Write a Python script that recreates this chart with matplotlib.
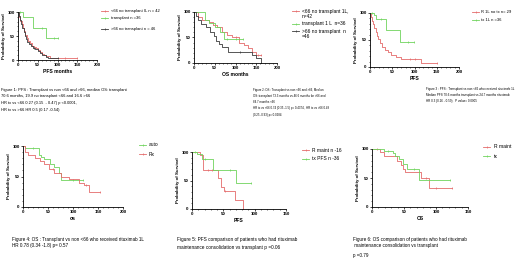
import numpy as np
import matplotlib
matplotlib.use("Agg")
import matplotlib.pyplot as plt
from matplotlib.ticker import MultipleLocator

plt.rcParams['font.family'] = ['Liberation Sans', 'DejaVu Sans']

RED = '#e46a6a'
GREEN = '#6fd35c'
BLACK = '#3a3a3a'

# ---------------- data (time in months, survival in %) ----------------
# Panel 1: PFS
p1_lt66_t = [0, 3, 6, 9, 12, 15, 18, 22, 26, 30, 35, 40, 45, 50, 55, 60, 66, 72, 80, 150]
p1_lt66_s = [100, 90, 82, 74, 67, 60, 52, 45, 40, 35, 30, 27, 24, 21, 17, 13, 10, 8, 5, 5]
p1_tx_t = [0, 12, 38, 72, 100]
p1_tx_s = [100, 90, 67, 46, 46]
p1_gt66_t = [0, 2, 5, 8, 11, 14, 17, 20, 24, 28, 33, 38, 44, 50, 56, 62, 70, 76, 100]
p1_gt66_s = [100, 92, 83, 75, 66, 58, 50, 44, 38, 33, 29, 26, 22, 18, 14, 10, 7, 5, 5]
p1_lt66_c = [120, 150]
p1_tx_c = [5, 60, 90, 100]
p1_gt66_c = [40, 100]

# Panel 2: OS
p2_lt66_t = [0, 10, 20, 35, 45, 55, 68, 80, 92, 108, 120, 130, 140, 150, 162]
p2_lt66_s = [100, 90, 85, 80, 75, 70, 60, 55, 50, 40, 35, 30, 22, 15, 15]
p2_tx_t = [0, 27, 35, 50, 62, 72, 118]
p2_tx_s = [100, 85, 78, 70, 60, 48, 48]
p2_gt66_t = [0, 5, 10, 18, 28, 38, 47, 52, 60, 68, 82, 133, 140, 150, 160, 161]
p2_gt66_s = [100, 93, 85, 77, 70, 60, 52, 44, 38, 32, 21, 21, 16, 10, 10, 0]
p2_lt66_c = [100, 155, 162]
p2_tx_c = [80, 100, 118]
p2_gt66_c = [110]

# Panel 3: PFS, rituximab 1L vs transplant
p3_r_t = [0, 2, 4, 7, 10, 13, 16, 19, 23, 28, 33, 40, 48, 58, 70, 115, 150]
p3_r_s = [100, 93, 86, 79, 72, 65, 58, 51, 44, 37, 31, 27, 22, 19, 15, 8, 8]
p3_tx_t = [0, 8, 14, 37, 67, 99]
p3_tx_s = [100, 96, 88, 68, 47, 47]
p3_r_c = [90, 100, 150]
p3_tx_c = [5, 25, 85, 99]

# Panel 4: OS auto vs Rx
p4_auto_t = [0, 3, 31, 36, 41, 54, 61, 72, 75, 119]
p4_auto_s = [100, 97, 85, 82, 78, 70, 65, 55, 44, 44]
p4_rx_t = [0, 3, 10, 24, 34, 41, 51, 61, 75, 92, 111, 122, 132, 153]
p4_rx_s = [100, 90, 85, 80, 75, 70, 62, 55, 50, 46, 40, 36, 25, 25]
p4_auto_c = [20, 100, 119]
p4_rx_c = [60, 125, 153]

# Panel 5: PFS R maintenance vs transplant
p5_rm_t = [0, 12, 18, 40, 42, 47, 51, 68, 81, 82]
p5_rm_s = [100, 95, 69, 69, 55, 38, 31, 15, 15, 0]
p5_tx_t = [0, 8, 16, 33, 70, 94]
p5_tx_s = [100, 97, 88, 68, 46, 46]
p5_rm_c = [25, 32, 52]
p5_tx_c = [5, 20, 60, 94]

# Panel 6: OS R maintenance vs transplant
p6_rm_t = [0, 12, 18, 39, 45, 48, 51, 77, 89, 125]
p6_rm_s = [100, 95, 88, 80, 72, 66, 60, 50, 33, 33]
p6_tx_t = [0, 18, 33, 36, 42, 48, 55, 74, 122]
p6_tx_s = [100, 97, 93, 88, 82, 75, 66, 46, 46]
p6_rm_c = [8, 85, 100, 125]
p6_tx_c = [25, 65, 122]

W, H = 520, 259
fig = plt.figure(figsize=(W / 100, H / 100), dpi=100)


def px_axes(x0, x1, ytop, ybot):
    return fig.add_axes([x0 / W, 1 - ybot / H, (x1 - x0) / W, (ybot - ytop) / H])


def km(ax, t, s, cens, color):
    t = np.asarray(t, float)
    s = np.asarray(s, float)
    ax.step(t, s, where='post', color=color, lw=0.6, clip_on=False)
    if cens:
        c = np.asarray(cens, float)
        idx = np.searchsorted(t, c, side='right') - 1
        ax.plot(c, s[idx], ls='none', marker='|', ms=1.8, mew=0.5, color=color, clip_on=False)


def style(ax, xmax, xlabel, xmajor):
    ax.set_xlim(0, xmax)
    ax.set_ylim(0, 100)
    for sp in ['top', 'right']:
        ax.spines[sp].set_visible(False)
    for sp in ['left', 'bottom']:
        ax.spines[sp].set_linewidth(0.6)
    ax.xaxis.set_major_locator(MultipleLocator(xmajor))
    ax.xaxis.set_minor_locator(MultipleLocator(xmajor / 5))
    ax.yaxis.set_major_locator(MultipleLocator(50))
    ax.yaxis.set_minor_locator(MultipleLocator(10))
    ax.tick_params(which='major', length=1.6, width=0.5, labelsize=3.2, pad=0.8)
    ax.tick_params(which='minor', length=0.9, width=0.4)
    for lab in ax.get_xticklabels() + ax.get_yticklabels():
        lab.set_fontweight('bold')
    ax.set_xlabel(xlabel, fontsize=3.6, fontweight='bold', labelpad=1.5)
    ax.set_ylabel('Probability of Survival', fontsize=3.2, fontweight='bold', labelpad=1.2)


def legend(x_line, x_text, rows, size=3.0):
    for y, color, label in rows:
        if color is not None:
            fig.add_artist(plt.Line2D([x_line / W, (x_line + 7) / W], [1 - y / H, 1 - y / H],
                                      color=color, lw=0.6))
            fig.add_artist(plt.Line2D([(x_line + 3.5) / W], [1 - y / H], marker='|', ms=1.8,
                                      mew=0.5, color=color))
        fig.text(x_text / W, 1 - y / H, label, fontsize=size, va='center', ha='left')


def caption(x, ys, lines, size):
    for y, line in zip(ys, lines):
        fig.text(x / W, 1 - y / H, line, fontsize=size, va='center', ha='left')


# Panel 1
ax1 = px_axes(18, 97, 12, 60)
km(ax1, p1_lt66_t, p1_lt66_s, p1_lt66_c, RED)
km(ax1, p1_tx_t, p1_tx_s, p1_tx_c, GREEN)
km(ax1, p1_gt66_t, p1_gt66_s, p1_gt66_c, BLACK)
style(ax1, 200, 'PFS months', 50)
legend(101, 111, [(11, RED, '<66 no transplant IL n = 42'),
                  (18, GREEN, 'transplant n =36'),
                  (29, BLACK, '>66 no transplant n = 46')], 3.0)
caption(1, [90, 96.5, 103, 110],
        ['Figure 1: PFS : Transplant vs non <66 and >66, median OS: transplant',
         '70.6 months, 19.9 no transplant <66 and 16.6 >66',
         'HR tx vs <66 0.27 (0.15  - 0.47) p <0.0001,',
         'HR tx vs >66 HR 0.5 (0.17 -0.54)'], 2.9)

# Panel 2
ax2 = px_axes(194, 277, 12, 63)
km(ax2, p2_lt66_t, p2_lt66_s, p2_lt66_c, RED)
km(ax2, p2_tx_t, p2_tx_s, p2_tx_c, GREEN)
km(ax2, p2_gt66_t, p2_gt66_s, p2_gt66_c, BLACK)
style(ax2, 200, 'OS months', 50)
legend(292, 302, [(11, RED, '<66 no transplant 1L,'),
                  (17, None, 'n=42'),
                  (24, GREEN, 'transplant 1 L  n=36'),
                  (31, BLACK, '>66 no transplant  n'),
                  (37, None, '=46')], 3.5)
caption(253, [90, 96, 102, 108, 115],
        ['Figure 2: OS : Transplant vs non <66 and >66, Median',
         'OS: transplant 73.3 months vs 46.6 months for >66 and',
         '84.7 months <66',
         'HR tx vs <66 0.74 (0.35 -1.5) p= 0.4374 , HR tx vs >66 0.48',
         '(0.25 -0.93) p= 0.0284'], 2.1)

# Panel 3
ax3 = px_axes(370, 459, 13, 67)
km(ax3, p3_r_t, p3_r_s, p3_r_c, RED)
km(ax3, p3_tx_t, p3_tx_s, p3_tx_c, GREEN)
style(ax3, 200, 'PFS', 50)
legend(472, 481, [(12, RED, 'R 1L no tx n= 29'),
                  (20, GREEN, 'tx 1L n =36')], 3.0)
caption(426, [89, 95, 101],
        ['Figure 3 : PFS : Transplant vs non <66 who received rituximab 1L',
         'Median PFS 70.6 months transplant vs 24.7 months rituximab',
         'HR 0.3 (0.16 - 0.59),  P value= 0.0005'], 2.2)

# Panel 4
ax4 = px_axes(23, 123, 146, 207)
km(ax4, p4_auto_t, p4_auto_s, p4_auto_c, GREEN)
km(ax4, p4_rx_t, p4_rx_s, p4_rx_c, RED)
style(ax4, 200, 'os', 50)
legend(139, 149, [(145, GREEN, 'auto'),
                  (154, RED, 'Rx')], 3.5)
caption(12, [239, 246],
        ['Figure 4: OS : Transplant vs non <66 who received rituximab 1L',
         'HR 0.78 (0.34 -1.8) p= 0.57'], 3.3)

# Panel 5
ax5 = px_axes(192, 286, 152, 209)
km(ax5, p5_rm_t, p5_rm_s, p5_rm_c, RED)
km(ax5, p5_tx_t, p5_tx_s, p5_tx_c, GREEN)
style(ax5, 150, 'PFS', 50)
legend(302, 312, [(150, RED, 'R maint n -16'),
                  (159, GREEN, 'tx PFS n -36')], 3.5)
caption(177, [239, 247],
        ['Figure 5: PFS comparison of patients who had rituximab',
         'maintenance consolidation vs transplant p =0.06'], 3.4)

# Panel 6
ax6 = px_axes(372, 468, 149, 207)
km(ax6, p6_rm_t, p6_rm_s, p6_rm_c, RED)
km(ax6, p6_tx_t, p6_tx_s, p6_tx_c, GREEN)
style(ax6, 150, 'OS', 50)
legend(483, 494, [(147, RED, 'R maint'),
                  (156, GREEN, 'tx')], 3.6)
caption(353, [239, 246, 256],
        ['Figure 6: OS comparison of patients who had rituximab',
         ' maintenance consolidation vs transplant',
         'p =0.79'], 3.3)

fig.savefig('out.png', dpi=100)
